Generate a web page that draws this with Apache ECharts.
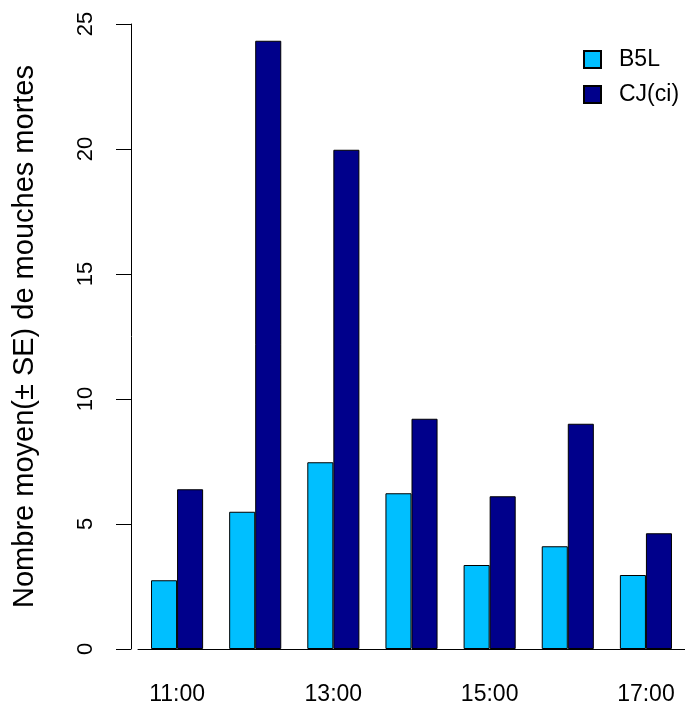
<!DOCTYPE html>
<html>
<head>
<meta charset="utf-8">
<script src="https://cdn.jsdelivr.net/npm/echarts@6/dist/echarts.min.js"></script>
<style>html,body{margin:0;padding:0;background:#fff;}#c{width:685px;height:706px;}</style>
</head>
<body>
<div id="c"></div>
<script>
const categories = ['11:00','12:00','13:00','14:00','15:00','16:00','17:00'];
const b5l = [2.75, 5.49, 7.47, 6.23, 3.36, 4.11, 2.96];
const cjci = [6.39, 24.33, 19.97, 9.21, 6.11, 9.01, 4.63];
const yTicks = [0, 5, 10, 15, 20, 25];

const FONT = '"Liberation Sans", Arial, sans-serif';
const chart = echarts.init(document.getElementById('c'), null, {renderer: 'canvas'});
chart.setOption({
  animation: false,
  backgroundColor: '#fff',
  textStyle: {fontFamily: FONT, color: '#000'},
  grid: {left: 138, top: 24, width: 550, height: 625, containLabel: false},
  legend: {
    orient: 'vertical', left: 578, top: 43, itemWidth: 17, itemHeight: 17, itemGap: 12,
    icon: 'rect',
    textStyle: {fontFamily: FONT, fontSize: 23, color: '#000', padding: [0, 0, 0, 13]},
    data: ['B5L', 'CJ(ci)']
  },
  xAxis: {
    type: 'category', data: categories,
    axisLine: {show: true, lineStyle: {color: '#000', width: 1}},
    axisTick: {show: false},
    axisLabel: {interval: 1, fontSize: 23, color: '#000', fontFamily: FONT, margin: 34},
    splitLine: {show: false}
  },
  yAxis: {
    type: 'value', min: yTicks[0], max: yTicks[yTicks.length - 1], interval: 5,
    offset: 7,
    name: 'Nombre moyen(± SE) de mouches mortes',
    nameLocation: 'middle', nameGap: 92,
    nameTextStyle: {fontSize: 29, color: '#000', fontFamily: FONT},
    axisLine: {show: true, lineStyle: {color: '#000', width: 1}},
    axisTick: {show: true, length: 15, lineStyle: {color: '#000', width: 1}},
    axisLabel: {rotate: 90, fontSize: 22, color: '#000', fontFamily: FONT, margin: 34},
    splitLine: {show: false}
  },
  series: [
    {name: 'B5L', type: 'bar', data: b5l, barGap: '0%', barCategoryGap: '33.33%',
     itemStyle: {color: '#00BFFF', borderColor: '#000', borderWidth: 1}},
    {name: 'CJ(ci)', type: 'bar', data: cjci, barGap: '0%', barCategoryGap: '33.33%',
     itemStyle: {color: '#00008B', borderColor: '#000', borderWidth: 1}}
  ]
});
</script>
</body>
</html>
